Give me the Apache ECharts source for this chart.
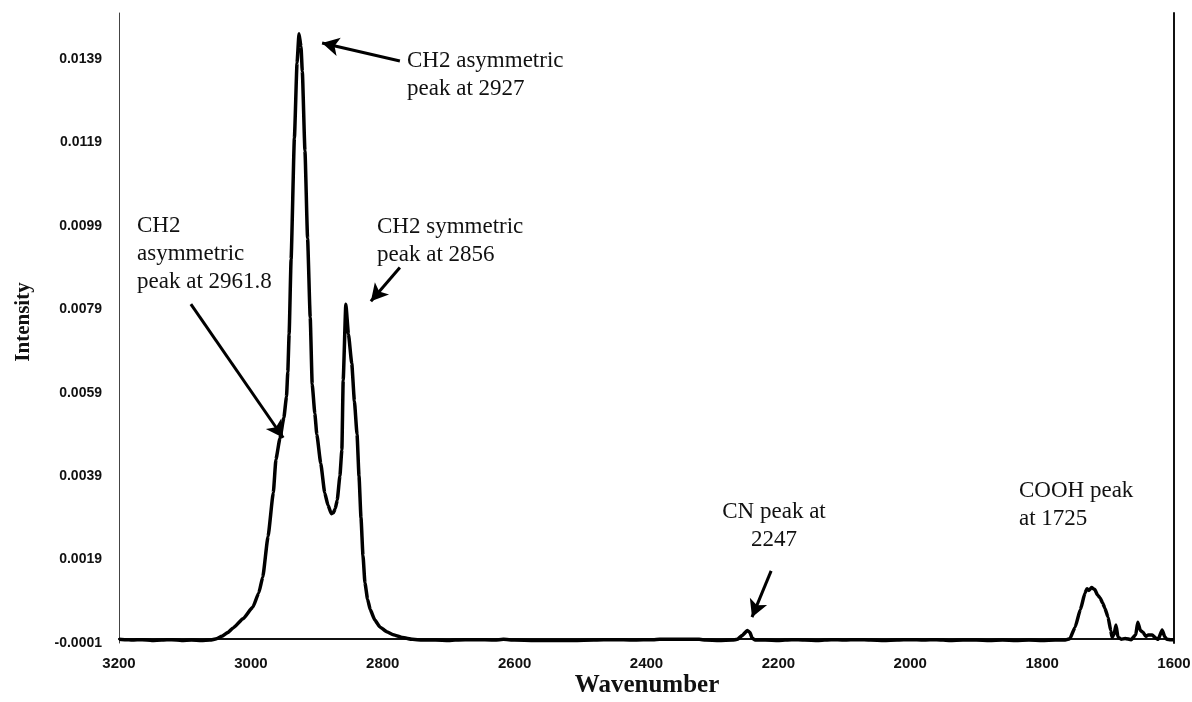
<!DOCTYPE html>
<html>
<head>
<meta charset="utf-8">
<title>IR spectrum</title>
<script src="https://cdn.jsdelivr.net/npm/echarts@6/dist/echarts.min.js"></script>
<style>
  html, body { margin: 0; padding: 0; background: #fff; }
  #chart { width: 1192px; height: 702px; }
</style>
</head>
<body>
<div id="chart"></div>
<script>
// Spectrum: wavenumber (cm-1) and measured intensity
const wavenumber = [
  3200, 3190, 3180, 3165, 3150, 3135, 3120, 3105, 3090, 3075, 3062, 3052, 3044, 3035, 3027,
  3012, 2997, 2988, 2982, 2974, 2966, 2962, 2956, 2950, 2946, 2944, 2942, 2939, 2934, 2930,
  2927, 2924, 2922, 2918, 2914, 2910, 2907, 2903, 2900, 2894, 2888, 2883, 2878, 2875, 2872,
  2869, 2865, 2862, 2860, 2856, 2852, 2847, 2843, 2839, 2836, 2833, 2830, 2827, 2823, 2819,
  2812, 2804, 2794, 2784, 2770, 2755, 2740, 2720, 2700, 2690, 2660, 2630, 2617, 2600, 2570,
  2540, 2510, 2480, 2450, 2420, 2390, 2380, 2360, 2340, 2320, 2310, 2290, 2270, 2262, 2255,
  2247, 2243, 2240, 2235, 2220, 2200, 2180, 2160, 2140, 2120, 2100, 2080, 2060, 2040, 2020,
  2000, 1980, 1960, 1940, 1920, 1900, 1880, 1860, 1840, 1820, 1800, 1780, 1765, 1758, 1750,
  1742, 1735, 1732, 1729, 1725, 1720, 1716, 1712, 1708, 1705, 1700, 1696, 1694, 1691, 1688,
  1685, 1680, 1674, 1665, 1658, 1655, 1651, 1647, 1643, 1639, 1633, 1628, 1624, 1618, 1614,
  1611, 1605, 1600
];
const intensity = [
  -0.00001, -0.00002, -0.00003, -0.00002, -0.00004, -0.00003, -0.00002, -0.00004, -0.00003, -0.00004, -0.00003, 0.00000, 0.00006, 0.00015, 0.00026,
  0.00048, 0.00076, 0.00110, 0.00148, 0.00245, 0.00350, 0.00430, 0.00480, 0.00530, 0.00580, 0.00640, 0.00730, 0.00910, 0.01200, 0.01380,
  0.01450, 0.01420, 0.01360, 0.01170, 0.00960, 0.00770, 0.00610, 0.00540, 0.00490, 0.00420, 0.00350, 0.00320, 0.00300, 0.00302, 0.00312,
  0.00333, 0.00390, 0.00453, 0.00620, 0.00802, 0.00730, 0.00660, 0.00570, 0.00490, 0.00390, 0.00290, 0.00200, 0.00134, 0.00095, 0.00070,
  0.00045, 0.00028, 0.00017, 0.00010, 0.00003, -0.00001, -0.00003, -0.00003, -0.00004, -0.00003, -0.00002, -0.00003, -0.00001, -0.00003, -0.00004,
  -0.00004, -0.00004, -0.00003, -0.00002, -0.00003, -0.00002, -0.00001, -0.00001, -0.00001, -0.00001, -0.00003, -0.00004, -0.00003, -0.00001, 0.00008,
  0.00020, 0.00015, 0.00002, -0.00003, -0.00003, -0.00004, -0.00002, -0.00003, -0.00004, -0.00002, -0.00003, -0.00002, -0.00003, -0.00004, -0.00003,
  -0.00002, -0.00003, -0.00002, -0.00004, -0.00003, -0.00003, -0.00004, -0.00003, -0.00004, -0.00003, -0.00004, -0.00003, -0.00003, 0.00000, 0.00028,
  0.00070, 0.00110, 0.00120, 0.00116, 0.00123, 0.00118, 0.00105, 0.00098, 0.00085, 0.00074, 0.00052, 0.00020, 0.00004, 0.00010, 0.00033,
  0.00004, -0.00001, 0.00001, -0.00002, 0.00010, 0.00040, 0.00020, 0.00016, 0.00006, 0.00009, 0.00009, 0.00002, -0.00001, 0.00021, 0.00005,
  -0.00001, -0.00002, -0.00002
];

// Axis ticks
const xTicks = [3200, 3000, 2800, 2600, 2400, 2200, 2000, 1800, 1600];
const yTicks = [-0.0001, 0.0019, 0.0039, 0.0059, 0.0079, 0.0099, 0.0119, 0.0139];

// Peak annotations: text, and arrow [from, to] in data units
const notes = [
  { text: 'CH2 asymmetric\npeak at 2927', x: 407, y: 47, align: 'left' },
  { text: 'CH2 symmetric\npeak at 2856', x: 377, y: 213, align: 'left' },
  { text: 'CH2\nasymmetric\npeak at 2961.8', x: 137, y: 212, align: 'left' },
  { text: 'CN peak at\n2247', x: 774, y: 498, align: 'center' },
  { text: 'COOH peak\nat 1725', x: 1019, y: 477, align: 'left' }
];
const arrows = [
  [[2774, 0.01385], [2892, 0.01428]],
  [[2774, 0.00890], [2818, 0.00809]],
  [[3091, 0.00802], [2951, 0.00482]],
  [[2211, 0.00163], [2240, 0.00052]]
];

const points = wavenumber.map((w, i) => [w, intensity[i]]);

const chart = echarts.init(document.getElementById('chart'), null, { renderer: 'canvas' });

const serif = "'Liberation Serif', 'Times New Roman', serif";
const sans = "'Liberation Sans', Arial, sans-serif";

chart.setOption({
  animation: false,
  backgroundColor: '#ffffff',
  grid: { left: 119, right: 18, top: 13, bottom: 59, containLabel: false, outerBoundsMode: 'none' },
  xAxis: [
    {
      type: 'value',
      min: 1600,
      max: 3200,
      interval: 200,
      inverse: true,
      axisLine: { show: true, lineStyle: { color: '#111', width: 2 } },
      axisTick: { show: false },
      splitLine: { show: false },
      axisLabel: {
        margin: 13,
        color: '#111',
        fontFamily: sans,
        fontWeight: 'bold',
        fontSize: 15,
        customValues: xTicks,
        formatter: v => String(v)
      }
    },
    {
      type: 'value',
      position: 'top',
      min: 1600,
      max: 3200,
      inverse: true,
      axisLine: { show: true, lineStyle: { color: '#111', width: 2 } },
      axisTick: { show: false },
      axisLabel: { show: false },
      splitLine: { show: false }
    }
  ],
  yAxis: [
    {
      type: 'value',
      min: -0.0001,
      max: 0.0150,
      axisLine: { show: true, lineStyle: { color: '#444', width: 1 } },
      axisTick: { show: false },
      splitLine: { show: false },
      axisLabel: {
        margin: 17,
        color: '#111',
        fontFamily: sans,
        fontWeight: 'bold',
        fontSize: 14,
        customValues: yTicks,
        formatter: v => v.toFixed(4)
      }
    },
    {
      type: 'value',
      position: 'right',
      min: -0.0001,
      max: 0.0150,
      axisLine: { show: true, lineStyle: { color: '#111', width: 2 } },
      axisTick: { show: false },
      axisLabel: { show: false },
      splitLine: { show: false }
    }
  ],
  series: [
    {
      type: 'line',
      data: points,
      showSymbol: false,
      smooth: 0.15,
      smoothMonotone: 'x',
      lineStyle: { color: '#000', width: 3.5 },
      markLine: {
        silent: true,
        symbol: ['none', 'arrow'],
        symbolSize: [14, 17],
        label: { show: false },
        lineStyle: { color: '#000', width: 3, type: 'solid' },
        emphasis: { disabled: true },
        data: arrows.map(a => [{ coord: a[0] }, { coord: a[1] }])
      }
    }
  ],
  graphic: [
    {
      type: 'text',
      x: 24, y: 322,
      rotation: Math.PI / 2,
      style: {
        text: 'Intensity', font: 'bold 21px ' + serif, fill: '#111',
        align: 'center', verticalAlign: 'middle'
      }
    },
    {
      type: 'text',
      x: 647, y: 686,
      style: {
        text: 'Wavenumber', font: 'bold 25px ' + serif, fill: '#111',
        align: 'center', verticalAlign: 'middle'
      }
    }
  ].concat(notes.map(n => ({
    type: 'text',
    x: n.x, y: n.y,
    style: {
      text: n.text, font: '23px ' + serif, fill: '#111',
      align: n.align, verticalAlign: 'top', lineHeight: 28
    }
  })))
});
</script>
</body>
</html>
